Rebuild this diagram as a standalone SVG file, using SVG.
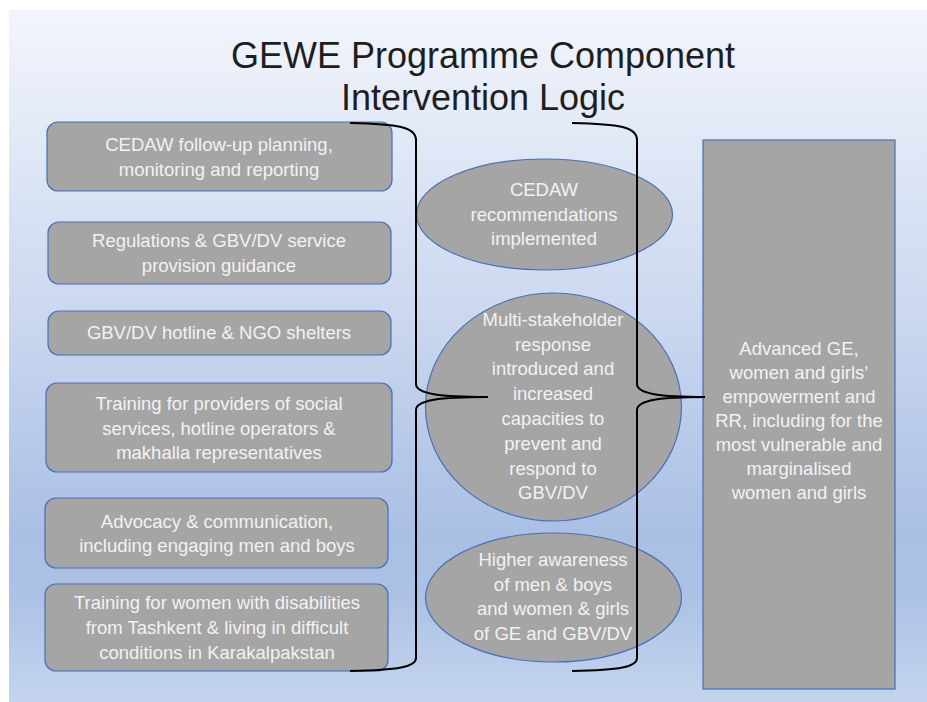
<svg xmlns="http://www.w3.org/2000/svg" width="927" height="702" viewBox="0 0 927 702">
<defs>
<linearGradient id="bg" x1="0" y1="0" x2="0" y2="1">
<stop offset="0" stop-color="#f2f5fb"/>
<stop offset="0.45" stop-color="#cad7ef"/>
<stop offset="0.76" stop-color="#a9bfe4"/>
<stop offset="0.84" stop-color="#abc1e5"/>
<stop offset="1" stop-color="#c4d4ed"/>
</linearGradient>
<style>
.box{fill:#a5a5a5;stroke:#4a6fb5;stroke-width:1.2}
.t{font-family:"Liberation Sans",Arial,sans-serif;font-size:18.5px;fill:#f2f2f2;text-anchor:middle}
.title{font-family:"Liberation Sans",Arial,sans-serif;font-size:36px;fill:#1e1e1e;text-anchor:middle}
.brace{fill:none;stroke:#000;stroke-width:2}
</style>
</defs>
<rect x="0" y="0" width="927" height="702" fill="#ffffff"/>
<rect x="9" y="10" width="918" height="692" fill="url(#bg)"/>
<g id="title">
<text class="title" x="483" y="68">GEWE Programme Component</text>
<text class="title" x="483" y="110">Intervention Logic</text>
</g>
<g id="input1">
<rect class="box" x="47" y="122" width="345" height="69" rx="11"/>
<text class="t" x="219" y="151">CEDAW follow-up planning,</text>
<text class="t" x="219" y="176">monitoring and reporting</text>
</g>
<g id="input2">
<rect class="box" x="48" y="222" width="343" height="62" rx="11"/>
<text class="t" x="219" y="247">Regulations &amp; GBV/DV service</text>
<text class="t" x="219" y="272">provision guidance</text>
</g>
<g id="input3">
<rect class="box" x="48" y="311" width="343" height="44" rx="11"/>
<text class="t" x="219" y="339">GBV/DV hotline &amp; NGO shelters</text>
</g>
<g id="input4">
<rect class="box" x="46" y="383" width="346" height="89" rx="11"/>
<text class="t" x="219" y="410">Training for providers of social</text>
<text class="t" x="219" y="435">services, hotline operators &amp;</text>
<text class="t" x="219" y="459">makhalla representatives</text>
</g>
<g id="input5">
<rect class="box" x="45" y="498" width="343" height="70" rx="11"/>
<text class="t" x="217" y="528">Advocacy &amp; communication,</text>
<text class="t" x="217" y="552">including engaging men and boys</text>
</g>
<g id="input6">
<rect class="box" x="45" y="584" width="343" height="87" rx="11"/>
<text class="t" x="217" y="609">Training for women with disabilities</text>
<text class="t" x="217" y="634">from Tashkent &amp; living in difficult</text>
<text class="t" x="217" y="659">conditions in Karakalpakstan</text>
</g>
<g id="outcome1">
<ellipse class="box" cx="544.5" cy="214.5" rx="128" ry="55.5"/>
<text class="t" x="544" y="196">CEDAW</text>
<text class="t" x="544" y="221">recommendations</text>
<text class="t" x="544" y="245">implemented</text>
</g>
<g id="outcome2">
<ellipse class="box" cx="553.5" cy="407" rx="128" ry="114"/>
<text class="t" x="553" y="326">Multi-stakeholder</text>
<text class="t" x="553" y="351">response</text>
<text class="t" x="553" y="375">introduced and</text>
<text class="t" x="553" y="400">increased</text>
<text class="t" x="553" y="425">capacities to</text>
<text class="t" x="553" y="450">prevent and</text>
<text class="t" x="553" y="475">respond to</text>
<text class="t" x="553" y="499">GBV/DV</text>
</g>
<g id="outcome3">
<ellipse class="box" cx="553.5" cy="597.5" rx="128" ry="64.5"/>
<text class="t" x="553" y="566">Higher awareness</text>
<text class="t" x="553" y="591">of men &amp; boys</text>
<text class="t" x="553" y="615">and women &amp; girls</text>
<text class="t" x="553" y="640">of GE and GBV/DV</text>
</g>
<g id="impact">
<rect class="box" x="703" y="140" width="192" height="549"/>
<text class="t" x="799" y="355">Advanced GE,</text>
<text class="t" x="799" y="379">women and girls’</text>
<text class="t" x="799" y="403">empowerment and</text>
<text class="t" x="799" y="427">RR, including for the</text>
<text class="t" x="799" y="451">most vulnerable and</text>
<text class="t" x="799" y="475">marginalised</text>
<text class="t" x="799" y="499">women and girls</text>
</g>
<g id="connectors">
<path class="brace" d="M350,123 C398,124 416,127 416,140 L416,384 C416,394 440,397 488,397 C440,397 416,400 416,410 L416,658 C416,667 398,670 350,671"/>
<path class="brace" d="M572,123 C620,124 637,127 637,140 L637,384 C637,394 661,397 705,397 C661,397 637,400 637,410 L637,658 C637,667 620,670 572,671"/>
</g>
</svg>
